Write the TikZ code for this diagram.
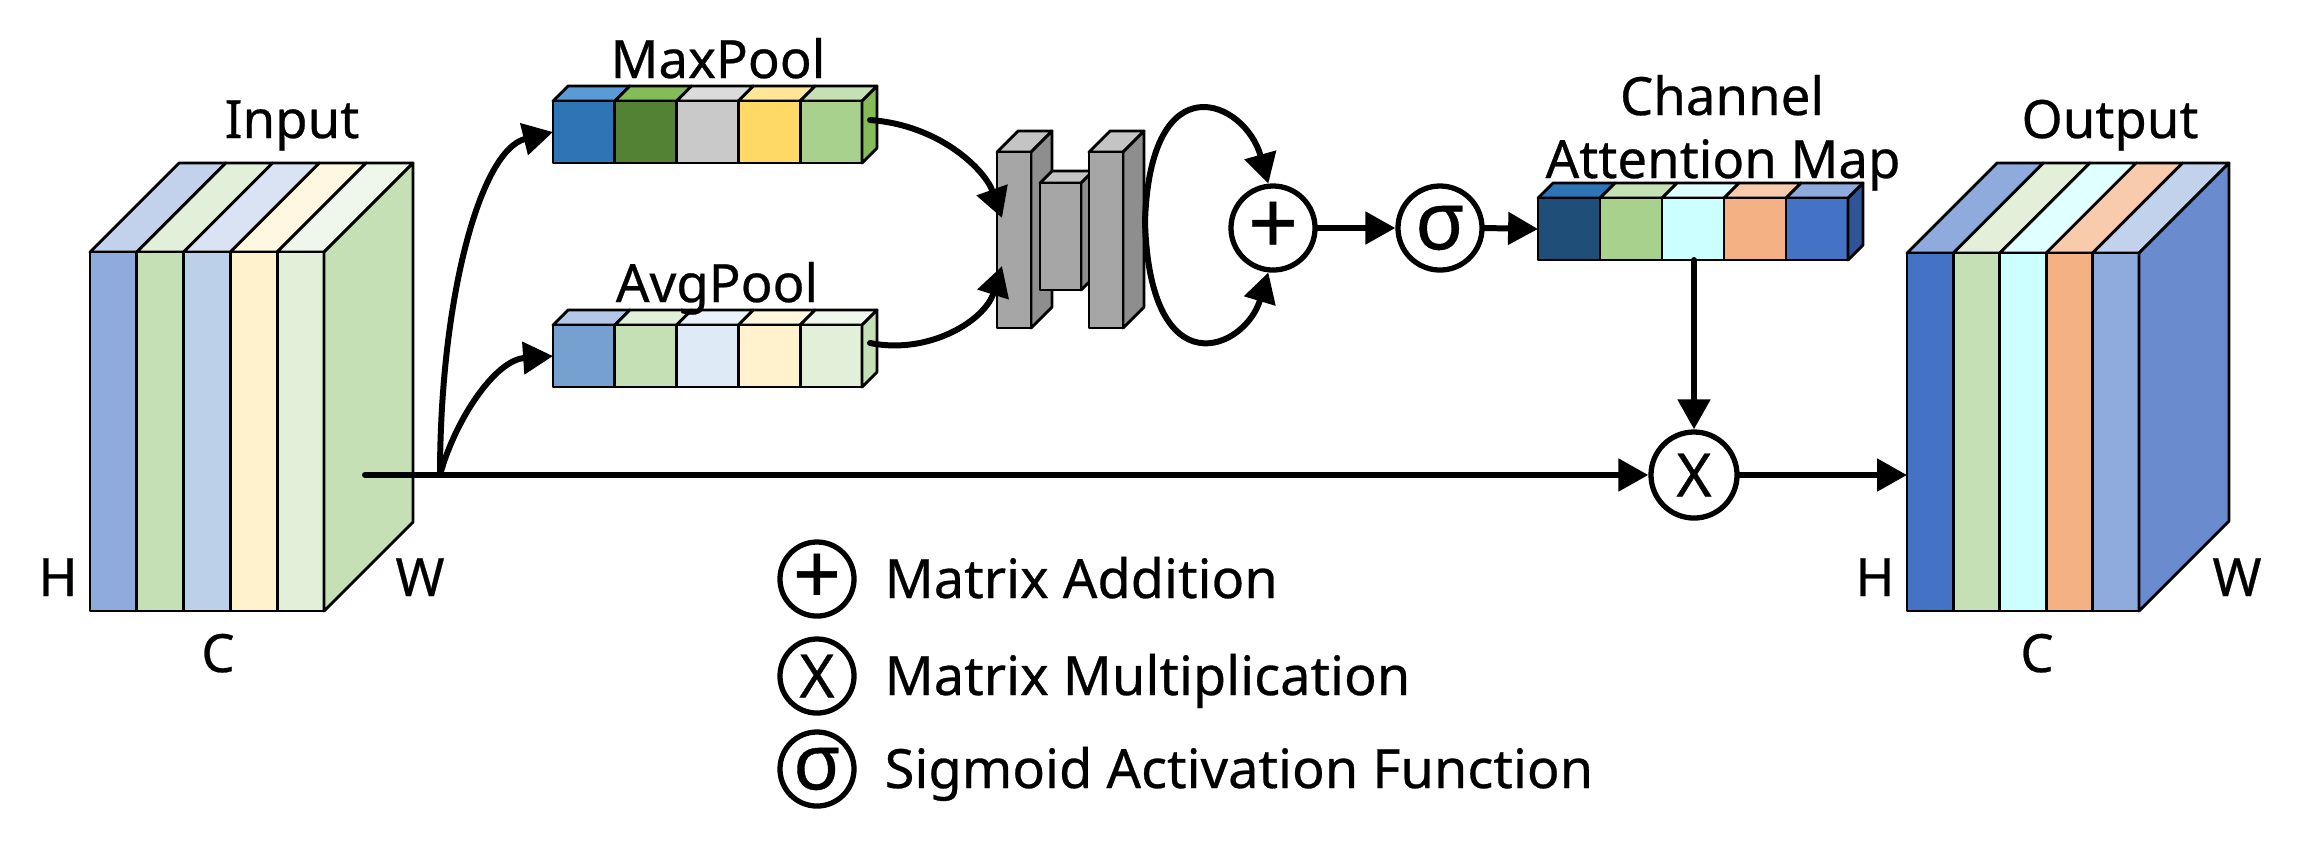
\documentclass[tikz,border=0pt]{standalone}
\usepackage{fontspec}
\setmainfont{Noto Sans}[FakeBold=0.5]
\usetikzlibrary{arrows.meta}
% colours
\definecolor{inFa}{HTML}{8FAADC}\definecolor{inTa}{HTML}{C2D1EC}
\definecolor{inFb}{HTML}{C5E0B4}\definecolor{inTb}{HTML}{E2EFD9}
\definecolor{inFc}{HTML}{BCD0EA}\definecolor{inTc}{HTML}{DAE3F3}
\definecolor{inFd}{HTML}{FFF2CC}\definecolor{inTd}{HTML}{FFF7E0}
\definecolor{inFe}{HTML}{E2F0D9}\definecolor{inTe}{HTML}{EFF6EA}
\definecolor{inSide}{HTML}{C5E0B4}
\definecolor{ouFa}{HTML}{4472C4}\definecolor{ouTa}{HTML}{8FAADC}
\definecolor{ouFb}{HTML}{C5E0B4}\definecolor{ouTb}{HTML}{E2F0D9}
\definecolor{ouFc}{HTML}{CCFFFF}\definecolor{ouTc}{HTML}{E0FFFF}
\definecolor{ouFd}{HTML}{F4B183}\definecolor{ouTd}{HTML}{F8CBAD}
\definecolor{ouFe}{HTML}{8FAADC}\definecolor{ouTe}{HTML}{C2D1EC}
\definecolor{ouSide}{HTML}{6A8CCF}
\definecolor{mpFa}{HTML}{2E75B6}\definecolor{mpTa}{HTML}{5B9BD5}
\definecolor{mpFb}{HTML}{548235}\definecolor{mpTb}{HTML}{84BC5A}
\definecolor{mpFc}{HTML}{C9C9C9}\definecolor{mpTc}{HTML}{DBDBDB}
\definecolor{mpFd}{HTML}{FFD966}\definecolor{mpTd}{HTML}{FFE699}
\definecolor{mpFe}{HTML}{A9D18E}\definecolor{mpTe}{HTML}{C5E0B4}
\definecolor{mpSide}{HTML}{84BC5A}
\definecolor{apFa}{HTML}{76A0CF}\definecolor{apTa}{HTML}{B4C7E7}
\definecolor{apFb}{HTML}{C5E0B4}\definecolor{apTb}{HTML}{E2F0D9}
\definecolor{apFc}{HTML}{DEEBF7}\definecolor{apTc}{HTML}{EAF2FB}
\definecolor{apFd}{HTML}{FFF2CC}\definecolor{apTd}{HTML}{FFF8DE}
\definecolor{apFe}{HTML}{E2F0D9}\definecolor{apTe}{HTML}{F0F7EC}
\definecolor{apSide}{HTML}{C5E0B4}
\definecolor{amFa}{HTML}{1F4E79}\definecolor{amTa}{HTML}{2E75B6}
\definecolor{amFb}{HTML}{A9D18E}\definecolor{amTb}{HTML}{C5E0B4}
\definecolor{amFc}{HTML}{CCFFFF}\definecolor{amTc}{HTML}{E0FFFF}
\definecolor{amFd}{HTML}{F4B183}\definecolor{amTd}{HTML}{F8CBAD}
\definecolor{amFe}{HTML}{4472C4}\definecolor{amTe}{HTML}{8FAADC}
\definecolor{amSide}{HTML}{2F5597}
\definecolor{gFront}{HTML}{A6A6A6}
\definecolor{gTop}{HTML}{C4C4C4}
\definecolor{gSide}{HTML}{8E8E8E}
% row of five cells with top faces and a right side face
% #1 x0, #2 ytop, #3 cell width, #4 height, #5 depth, #6 front/top pairs, #7 side colour
\newcommand\cellrow[7]{%
  \foreach \fc/\tc [count=\i from 0] in {#6}{%
    \pgfmathsetmacro\xa{#1+\i*#3}%
    \pgfmathsetmacro\xb{#1+(\i+1)*#3}%
    \filldraw[fill=\tc,outl] (\xa,#2) -- (\xa+#5,#2-#5) -- (\xb+#5,#2-#5) -- (\xb,#2) -- cycle;
    \filldraw[fill=\fc,outl] (\xa,#2) rectangle (\xb,#2+#4);
  }%
  \pgfmathsetmacro\xr{#1+5*#3}%
  \filldraw[fill=#7,outl] (\xr,#2) -- (\xr+#5,#2-#5) -- (\xr+#5,#2+#4-#5) -- (\xr,#2+#4) -- cycle;
}
% grey block: #1 x0, #2 ytop, #3 width, #4 height, #5 depth
\newcommand\greyblock[5]{%
  \filldraw[fill=gTop,outl] (#1,#2) -- ++(#5,-#5) -- ++(#3,0) -- ++(-#5,#5) -- cycle;
  \filldraw[fill=gSide,outl] (#1+#3,#2) -- ++(#5,-#5) -- ++(0,#4) -- ++(-#5,#5) -- cycle;
  \filldraw[fill=gFront,outl] (#1,#2) rectangle ++(#3,#4);
}
\begin{document}
\begin{tikzpicture}[x=0.01cm,y=-0.01cm,
  outl/.style={draw=black,line width=0.8pt,line join=round},
  conn/.style={line width=1.7pt,line cap=round,-{Triangle[length=8.5pt,width=9pt]}},
  opcirc/.style={circle,draw,line width=1.5pt,minimum size=0.84cm,inner sep=0pt},
  legcirc/.style={circle,draw,line width=1.5pt,minimum size=0.74cm,inner sep=0pt},
  lbl/.style={font=\fontsize{15}{18}\selectfont,inner sep=0pt,anchor=base},
  legtxt/.style={font=\fontsize{15.4}{18}\selectfont,inner sep=0pt,anchor=base west},
]
\useasboundingbox (0,0) rectangle (2300,859);

% input and output tensors
\cellrow{90}{252}{46.8}{359}{89}{inFa/inTa,inFb/inTb,inFc/inTc,inFd/inTd,inFe/inTe}{inSide}
\cellrow{1907}{253}{46.4}{358}{90}{ouFa/ouTa,ouFb/ouTb,ouFc/ouTc,ouFd/ouTd,ouFe/ouTe}{ouSide}
% pooled vectors
\cellrow{553}{101}{61.8}{62}{15}{mpFa/mpTa,mpFb/mpTb,mpFc/mpTc,mpFd/mpTd,mpFe/mpTe}{mpSide}
\cellrow{553}{325}{61.8}{62}{15}{apFa/apTa,apFb/apTb,apFc/apTc,apFd/apTd,apFe/apTe}{apSide}
% channel attention map
\cellrow{1538}{198}{62}{62}{15}{amFa/amTa,amFb/amTb,amFc/amTc,amFd/amTd,amFe/amTe}{amSide}
% shared MLP blocks
\greyblock{997}{152}{34}{176}{21}
\greyblock{1040}{183}{41}{107}{12}
\greyblock{1089}{152}{34}{176}{21}

% labels
\node[lbl] (tin) at (292,138) {Input};
\node[lbl] (tout) at (2110,138) {Output};
\node[lbl] (tmax) at (718,78) {MaxPool};
\node[lbl] (tavg) at (717,302) {AvgPool};
\node[lbl] (tch1) at (1722,115) {Channel};
\node[lbl] (tch2) at (1723,178) {Attention Map};
\node[lbl] (hin) at (58,596) {H};
\node[lbl] (win) at (420,596) {W};
\node[lbl] (cin) at (218,672) {C};
\node[lbl] (hout) at (1875,596) {H};
\node[lbl] (wout) at (2237,596) {W};
\node[lbl] (cout) at (2037,672) {C};

% operators
\node[opcirc,font=\fontsize{25}{25}\bfseries\selectfont] (plus) at (1273,228) {+};
\node[opcirc,font=\fontsize{23}{23}\bfseries\selectfont] (sig) at (1440,228) {σ};
\node[opcirc,minimum size=0.86cm,font=\fontsize{17}{17}\selectfont] (mul) at (1694,475) {X};

% connection points
\coordinate (in0) at (365,475);
\coordinate (br) at (440,475);
\coordinate (mpL) at (553,132);
\coordinate (apL) at (553,356);
\coordinate (mpR) at (870,120);
\coordinate (apR) at (870,343);
\coordinate (gA) at (1002,218);
\coordinate (gB) at (1002,266);
\coordinate (gR) at (1145,222);
\coordinate (amL) at (1538,229);
\coordinate (amB) at (1694,260);
\coordinate (outL) at (1907,475);

% connectors
\draw[conn] (in0) -- (mul.west);
\draw[conn] (br) .. controls (440,300) and (480,150) .. (mpL);
\draw[conn] (br) .. controls (455,420) and (495,360) .. (apL);
\draw[conn] (mpR) .. controls (940,125) and (985,170) .. (gA);
\draw[conn] (apR) .. controls (930,355) and (985,320) .. (gB);
\draw[conn] (gR) .. controls (1150,60) and (1245,100) .. (plus.96);
\draw[conn] (gR) .. controls (1150,390) and (1245,350) .. (plus.-96);
\draw[conn] (plus.east) -- (sig.west);
\draw[conn] (sig.east) -- (amL);
\draw[conn] (amB) -- (mul.north);
\draw[conn] (mul.east) -- (outL);

% legend
\node[legcirc,font=\fontsize{24}{24}\bfseries\selectfont] (lgplus) at (817,579) {+};
\node[legcirc,font=\fontsize{17}{17}\selectfont] (lgmul) at (817,676) {X};
\node[legcirc,font=\fontsize{22}{22}\bfseries\selectfont] (lgsig) at (817,769) {σ};
\node[legtxt] (lgt1) at (884,598) {Matrix Addition};
\node[legtxt] (lgt2) at (884,695) {Matrix Multiplication};
\node[legtxt] (lgt3) at (884,788) {Sigmoid Activation Function};
\end{tikzpicture}
\end{document}
